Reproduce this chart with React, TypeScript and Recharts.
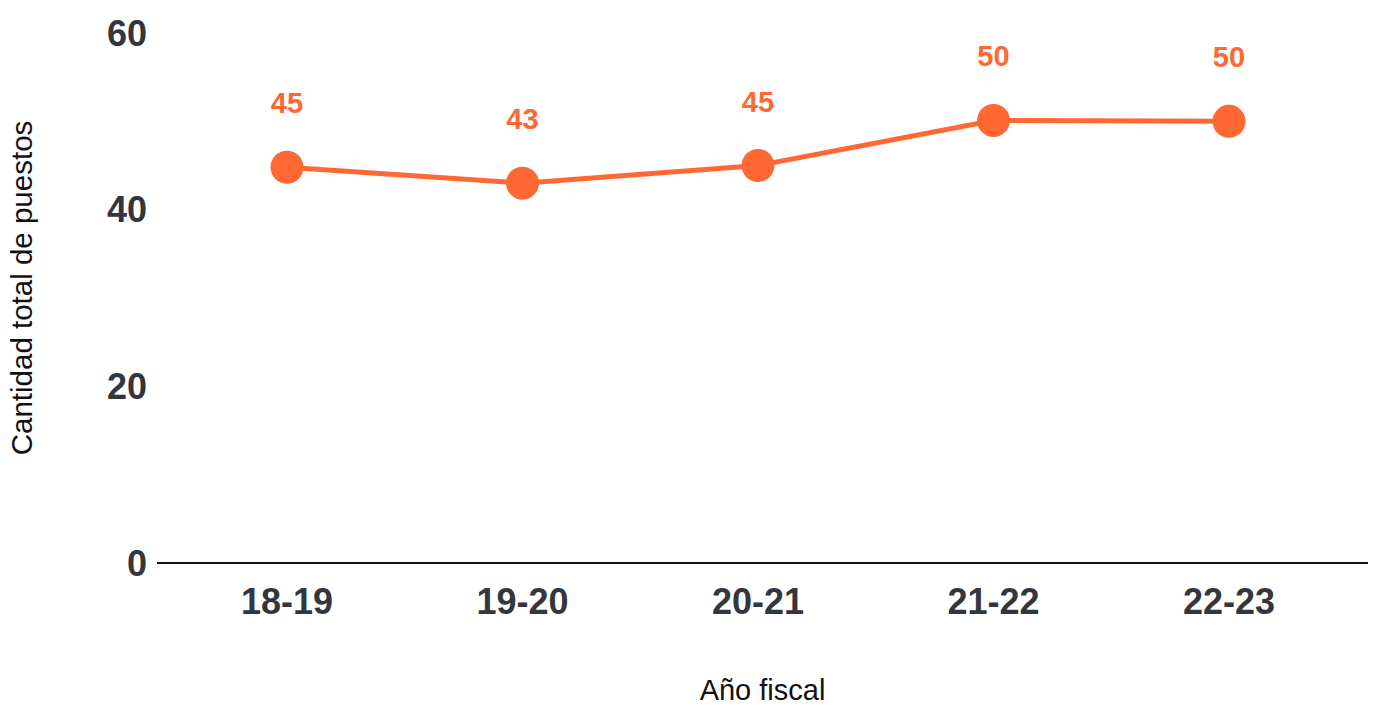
import React from 'react'
import { LineChart, Line, XAxis, YAxis, LabelList } from 'recharts'

const years = ['18-19', '19-20', '20-21', '21-22', '22-23']
const puestos = [44.8, 43, 45, 50.1, 50]
const yTicks = [0, 20, 40, 60]

const data = years.map((year, i) => ({ year, puestos: puestos[i] }))

const ORANGE = '#ff6833'
const TICK = '#33363d'
const FONT = '"Liberation Sans", Arial, Helvetica, sans-serif'

function ValueLabel(props: any) {
  const { x, y, value } = props
  return (
    <text
      x={x}
      y={y - 64}
      textAnchor="middle"
      dominantBaseline="central"
      fill={ORANGE}
      fontSize={29}
      fontWeight={700}
      fontFamily={FONT}
    >
      {Math.round(value)}
    </text>
  )
}

function YTitle() {
  return (
    <text
      transform="translate(21, 288) rotate(-90)"
      textAnchor="middle"
      dominantBaseline="central"
      fill="#111"
      fontSize={29.5}
      fontFamily={FONT}
    >
      Cantidad total de puestos
    </text>
  )
}

export default function App() {
  return (
    <div style={{ position: 'absolute', left: 0, top: 0, background: '#fff' }}>
      <LineChart
        width={1378}
        height={706}
        data={data}
        margin={{ top: 33, right: 10, left: 0, bottom: 0 }}
      >
        <XAxis
          dataKey="year"
          height={143}
          padding={{ left: 130, right: 139 }}
          tickLine={false}
          tickSize={0}
          tickMargin={25}
          axisLine={{ stroke: '#111', strokeWidth: 2 }}
          tick={{ fill: TICK, fontSize: 36, fontWeight: 700, fontFamily: FONT }}
          label={{
            value: 'Año fiscal',
            position: 'insideBottom',
            offset: 6,
            fill: '#111',
            fontSize: 29,
            fontFamily: FONT,
          }}
        />
        <YAxis
          width={157}
          domain={[0, 60]}
          ticks={yTicks}
          axisLine={false}
          tickLine={false}
          tickSize={0}
          tickMargin={10}
          tick={{ fill: TICK, fontSize: 36, fontWeight: 700, fontFamily: FONT }}
          label={{ content: () => <YTitle /> }}
        />
        <Line
          type="linear"
          dataKey="puestos"
          stroke={ORANGE}
          strokeWidth={5}
          dot={{ r: 16.5, fill: ORANGE, stroke: 'none' }}
          activeDot={false}
          isAnimationActive={false}
        >
          <LabelList dataKey="puestos" content={<ValueLabel />} />
        </Line>
      </LineChart>
    </div>
  )
}
